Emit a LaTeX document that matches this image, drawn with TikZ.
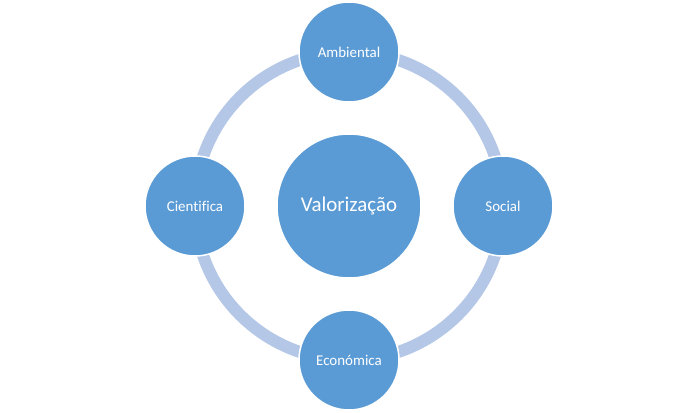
\documentclass[tikz,border=0pt]{standalone}
\usepackage{fontspec}
\setmainfont{Carlito}[Ligatures=NoCommon]
\usetikzlibrary{positioning, backgrounds}

\definecolor{circblue}{HTML}{5B9BD5}
\definecolor{ringblue}{HTML}{B4C7E7}

\begin{document}
\begin{tikzpicture}[
    node distance=154bp,
    on grid,
    % Core Shapes
    hub/.style={circle, fill=circblue, draw=white, line width=1.5bp, minimum size=144bp, inner sep=0pt, text=white, font=\fontsize{21}{25}\selectfont},
    item/.style={circle, fill=circblue, draw=white, line width=1.5bp, minimum size=100bp, inner sep=0pt, text=white, font=\fontsize{15}{18}\selectfont},
    % Connectors
    ring/.style={draw=ringblue, line width=12bp},
]

\useasboundingbox (-349bp,-207bp) rectangle (349bp,206bp);

% 1. Centre
\node[hub] (val) {Valorização};

% 2. Outer circles
\node[item, above=of val] (amb) {Ambiental};
\node[item, right=of val] (soc) {Social};
\node[item, below=of val] (eco) {Económica};
\node[item, left=of val] (cie) {Cientifica};

% Ring
\begin{scope}[on background layer]
    \draw[ring] (val.center) circle (154bp);
\end{scope}

\end{tikzpicture}
\end{document}
